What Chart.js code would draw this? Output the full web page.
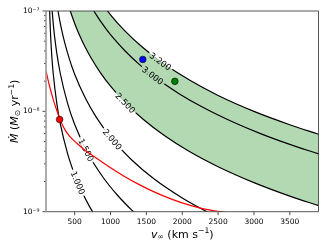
<!DOCTYPE html>
<html><head><meta charset="utf-8">
<script src="https://cdn.jsdelivr.net/npm/chart.js@4.4.1/dist/chart.umd.min.js"></script>
<style>html,body{margin:0;padding:0;background:#fff;}canvas{display:block;}</style>
</head><body>
<canvas id="c" width="327" height="246"></canvas>
<script>
// ---------------- data ----------------
const levels = [1.0, 1.5, 2.0, 2.5, 3.0, 3.2];

const c100V = [145, 151, 160, 180, 200, 250, 300, 400, 500, 600, 700, 800];
const c100M = [1.484e-7, 1.0e-7, 6.61e-8, 3.62e-8, 2.41e-8, 1.21e-8, 7.50e-9, 3.82e-9, 2.34e-9, 1.59e-9, 1.15e-9, 8.76e-10];

const c150V = [180, 186, 200, 220, 250, 300, 400, 500, 700, 900, 1100, 1300, 1350];
const c150M = [1.146e-7, 1.0e-7, 7.61e-8, 5.55e-8, 3.82e-8, 2.37e-8, 1.21e-8, 7.41e-9, 3.65e-9, 2.18e-9, 1.45e-9, 1.03e-9, 9.55e-10];

const c200V = [260, 268, 290, 320, 360, 420, 500, 650, 800, 1000, 1300, 1600, 2000, 2400];
const c200M = [1.085e-7, 1.0e-7, 8.17e-8, 6.41e-8, 4.86e-8, 3.43e-8, 2.34e-8, 1.35e-8, 8.76e-9, 5.55e-9, 3.26e-9, 2.14e-9, 1.37e-9, 9.49e-10];

const bandV = [420, 440, 470, 500, 560, 640, 740, 860, 1000, 1200, 1450, 1750, 2100, 2500, 3000, 3500, 3900];
const c250M = [1.100e-7, 9.93e-8, 8.60e-8, 7.52e-8, 5.91e-8, 4.46e-8, 3.30e-8, 2.42e-8, 1.78e-8, 1.23e-8, 8.39e-9, 5.75e-9, 3.98e-9, 2.81e-9, 1.95e-9, 1.43e-9, 1.15e-9];
const c320M = [5.66e-7, 5.11e-7, 4.42e-7, 3.87e-7, 3.04e-7, 2.29e-7, 1.70e-7, 1.25e-7, 9.16e-8, 6.33e-8, 4.32e-8, 2.96e-8, 2.05e-8, 1.44e-8, 1.00e-8, 7.36e-9, 5.92e-9];

const c300V = [740, 760, 800, 860, 950, 1050, 1200, 1400, 1650, 1950, 2300, 2700, 3100, 3500, 3900];
const c300M = [1.079e-7, 1.021e-7, 9.19e-8, 7.92e-8, 6.46e-8, 5.27e-8, 4.02e-8, 2.94e-8, 2.11e-8, 1.51e-8, 1.085e-8, 7.87e-9, 5.96e-9, 4.68e-9, 3.77e-9];

const redV = [100, 150, 200, 250, 290, 350, 430, 530, 650, 800, 1000, 1200, 1400, 1600, 1850, 2100, 2300, 2530, 2650];
const redM = [2.53e-8, 1.778e-8, 1.318e-8, 1.023e-8, 8.51e-9, 6.84e-9, 5.62e-9, 4.81e-9, 4.07e-9, 3.43e-9, 2.74e-9, 2.23e-9, 1.862e-9, 1.585e-9, 1.334e-9, 1.161e-9, 1.067e-9, 1.0e-9, 9.72e-10];

const blueV = [1450];  const blueM = [3.29e-8];
const greenV = [1897]; const greenM = [1.99e-8];
const redDotV = [290]; const redDotM = [8.3e-9];

const xTickVals = [500, 1000, 1500, 2000, 2500, 3000, 3500];
const yMajorVals = [1e-9, 1e-8, 1e-7];
const yMajorLabels = ['10\u207B\u2079', '10\u207B\u2078', '10\u207B\u2077'];

// ---------------- styling / layout ----------------
const FAM = '"DejaVu Sans"';
const GREEN_FILL = 'rgba(0,128,0,0.3)';
const GREEN_ON_WHITE = 'rgb(179,217,179)';
const labelAtV = [546, 661, 1026, 1208, 1590, 1697];          // label centres along each contour
const gapSides = [['#fff','#fff'],['#fff','#fff'],['#fff','#fff'],[GREEN_ON_WHITE,'#fff'],[GREEN_ON_WHITE,GREEN_ON_WHITE],['#fff',GREEN_ON_WHITE]];

Chart.defaults.font.family = FAM;

function pts(xs, ys){ return xs.map((x,i)=>({x:x, y:ys[i]})); }
function lineDs(xs, ys, extra){
  return Object.assign({data:pts(xs,ys), showLine:true, borderColor:'#000', borderWidth:1.2,
    pointRadius:0, pointHoverRadius:0, fill:false, cubicInterpolationMode:'monotone', order:10, clip:0}, extra||{});
}
function dotDs(xs, ys, col){
  return {data:pts(xs,ys), showLine:false, pointRadius:3.3, pointHoverRadius:3.3,
    pointBackgroundColor:col, pointBorderColor:'rgba(0,0,0,0.75)', pointBorderWidth:0.8, order:0, clip:false};
}

const datasets = [
  lineDs(c100V, c100M),
  lineDs(c150V, c150M),
  lineDs(c200V, c200M),
  lineDs(bandV, c250M),
  lineDs(c300V, c300M),
  lineDs(bandV, c320M, {fill:3, backgroundColor:GREEN_FILL}),
  lineDs(redV, redM, {borderColor:'#ff0000', borderWidth:1.2, order:5}),
  dotDs(blueV, blueM, '#0000ff'),
  dotDs(greenV, greenM, '#008000'),
  dotDs(redDotV, redDotM, '#ff0000')
];

function bez(a,b,c,d,t){ const u=1-t; return u*u*u*a+3*u*u*t*b+3*u*t*t*c+t*t*t*d; }
function yAtX(meta, px){
  const p = meta.data;
  for (let i=0;i<p.length-1;i++){
    const a=p[i], b=p[i+1];
    if (px>=a.x && px<=b.x){
      const x1=(a.cp2x!==undefined)?a.cp2x:a.x, y1=(a.cp2y!==undefined)?a.cp2y:a.y;
      const x2=(b.cp1x!==undefined)?b.cp1x:b.x, y2=(b.cp1y!==undefined)?b.cp1y:b.y;
      let lo=0, hi=1;
      for (let k=0;k<50;k++){ const m=(lo+hi)/2; if (bez(a.x,x1,x2,b.x,m)<px) lo=m; else hi=m; }
      return bez(a.y,y1,y2,b.y,(lo+hi)/2);
    }
  }
  return null;
}

function drawRich(ctx, parts, fs, cx, baseY){
  const ms = parts.map(p=>{ const f=(p.it?'italic ':'')+(fs*(p.sc||1)).toFixed(2)+'px '+FAM; ctx.font=f; return {f:f, w:ctx.measureText(p.t).width}; });
  const total = ms.reduce((s,m)=>s+m.w,0);
  let x = cx-total/2;
  ctx.textAlign='left'; ctx.textBaseline='alphabetic';
  parts.forEach((p,i)=>{ ctx.font=ms[i].f; ctx.fillText(p.t, x, baseY+(p.dy||0)*fs); x+=ms[i].w; });
}

const LABEL_FS = 8.5;
const decor = {
  id:'decor',
  afterDatasetDraw(chart, args){
    const i = args.index; if (i>5) return;
    const ctx = chart.ctx, a = chart.chartArea, xs = chart.scales.x;
    const px = xs.getPixelForValue(labelAtV[i]);
    const yc = yAtX(args.meta, px), y0 = yAtX(args.meta, px-1.5), y1 = yAtX(args.meta, px+1.5);
    if (yc===null||y0===null||y1===null) return;
    const th = Math.atan2(y1-y0, 3);
    const txt = levels[i].toFixed(3);
    ctx.save();
    ctx.beginPath(); ctx.rect(a.left,a.top,a.right-a.left,a.bottom-a.top); ctx.clip();
    ctx.translate(px,yc); ctx.rotate(th);
    ctx.font = LABEL_FS+'px '+FAM;
    const w = ctx.measureText(txt).width+4;
    ctx.fillStyle=gapSides[i][0]; ctx.fillRect(-w/2,-2.3,w,2.3);
    ctx.fillStyle=gapSides[i][1]; ctx.fillRect(-w/2,0,w,2.3);
    ctx.fillStyle='#000'; ctx.textAlign='center'; ctx.textBaseline='alphabetic';
    ctx.fillText(txt, 0, 0.36*LABEL_FS);
    ctx.restore();
  },
  afterDraw(chart){
    const ctx = chart.ctx, a = chart.chartArea, xs = chart.scales.x, ys = chart.scales.y;
    ctx.save();
    // ticks
    ctx.strokeStyle='#222'; ctx.lineWidth=0.8;
    ctx.beginPath();
    xTickVals.forEach(v=>{ const p=xs.getPixelForValue(v); ctx.moveTo(p,a.bottom); ctx.lineTo(p,a.bottom+3.5); });
    ys.ticks.forEach(t=>{ const p=ys.getPixelForValue(t.value); const L=t.major?3.5:2; ctx.moveTo(a.left,p); ctx.lineTo(a.left-L,p); });
    ctx.stroke();
    // spines
    ctx.strokeStyle='#444'; ctx.lineWidth=0.9;
    ctx.beginPath();
    ctx.moveTo(a.left,a.top); ctx.lineTo(a.right,a.top); ctx.lineTo(a.right,a.bottom); ctx.lineTo(a.left,a.bottom);
    ctx.stroke();
    ctx.strokeStyle='#999'; ctx.lineWidth=1.6;
    ctx.beginPath(); ctx.moveTo(a.left,a.top); ctx.lineTo(a.left,a.bottom); ctx.stroke();
    // axis titles
    ctx.fillStyle='#000';
    drawRich(ctx, [{t:'v',it:1},{t:'\u221E',sc:0.7,dy:0.15},{t:' (km s'},{t:'\u22121',sc:0.7,dy:-0.38},{t:')'}], 11, (a.left+a.right)/2, 237.5);
    ctx.translate(18, (a.top+a.bottom)/2); ctx.rotate(-Math.PI/2);
    drawRich(ctx, [{t:'\u1E40',it:1},{t:' ('},{t:'M',it:1},{t:'\u2299',sc:0.7,dy:0.15},{t:' yr'},{t:'\u22121',sc:0.7,dy:-0.38},{t:')'}], 11, 0, 0);
    ctx.restore();
  }
};

new Chart(document.getElementById('c'), {
  type:'line',
  data:{datasets:datasets},
  plugins:[decor],
  options:{
    responsive:false, animation:false, devicePixelRatio:1, events:[],
    layout:{padding:{left:0,right:8.5,top:8.7,bottom:0}},
    elements:{line:{capBezierPoints:false}},
    plugins:{legend:{display:false}, tooltip:{enabled:false}, filler:{drawTime:'beforeDatasetsDraw'}},
    scales:{
      x:{type:'linear', min:100, max:3900,
        grid:{display:false, drawTicks:false, tickLength:0}, border:{display:false},
        afterBuildTicks:s=>{ s.ticks = xTickVals.map(v=>({value:v})); },
        afterFit:s=>{ s.height = 34.3; },
        ticks:{autoSkip:false, maxRotation:0, minRotation:0, padding:6, color:'#000', font:{size:7.5, family:FAM},
          callback:v=>String(v)}},
      y:{type:'logarithmic', min:1e-9, max:1e-7,
        grid:{display:false, drawTicks:false, tickLength:0}, border:{display:false},
        afterBuildTicks:s=>{
          const t=[];
          for (let e=0;e<yMajorVals.length;e++){
            t.push({value:yMajorVals[e], major:true});
            if (e<yMajorVals.length-1) for (let k=2;k<=9;k++) t.push({value:k*yMajorVals[e], major:false});
          }
          s.ticks=t;
        },
        afterFit:s=>{ s.width = 46; },
        ticks:{autoSkip:false, padding:6.5, color:'#000', font:{size:7.5, family:FAM},
          callback:v=>{ const i=yMajorVals.findIndex(m=>Math.abs(m-v)/m<1e-6); return i>=0?yMajorLabels[i]:''; }}}
    }
  }
});
</script></body></html>
